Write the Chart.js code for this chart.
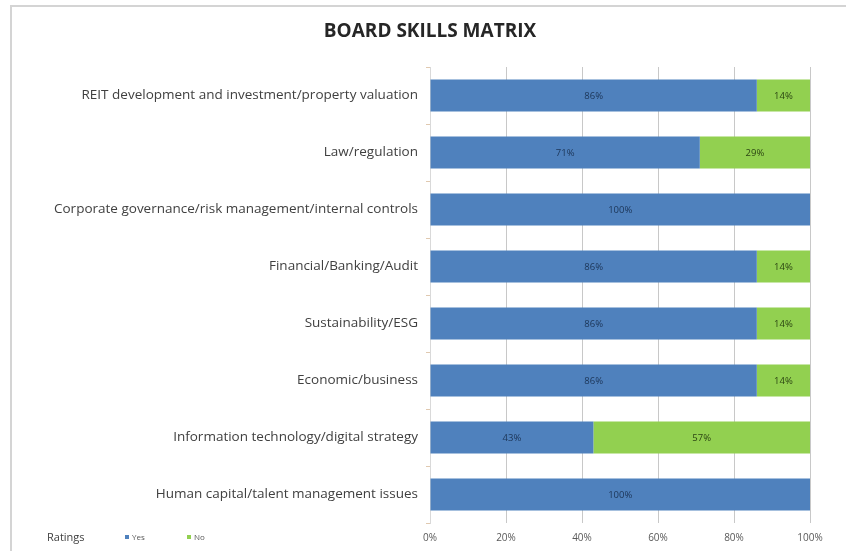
<!DOCTYPE html>
<html>
<head>
<meta charset="utf-8">
<script src="https://cdn.jsdelivr.net/npm/chart.js@4/dist/chart.umd.min.js"></script>
<style>
  body { margin: 0; background: #fff; }
  #wrap { position: relative; width: 846px; height: 551px; }
  #frame { position: absolute; left: 10px; top: 5px; right: 0; bottom: 0;
           border-top: 2px solid #d4d4d4; border-left: 2px solid #d4d4d4; }
  #skillsChart { position: absolute; left: 0; top: 0; }
</style>
</head>
<body>
<div id="wrap">
  <div id="frame"></div>
  <canvas id="skillsChart" width="846" height="551"></canvas>
</div>
<script>
// --- data ---
const chartTitle = 'BOARD SKILLS MATRIX';
const skills = [
    'REIT development and investment/property valuation',
    'Law/regulation',
    'Corporate governance/risk management/internal controls',
    'Financial/Banking/Audit',
    'Sustainability/ESG',
    'Economic/business',
    'Information technology/digital strategy',
    'Human capital/talent management issues'
];
const yesPct = [86, 71, 100, 86, 86, 86, 43, 100];
const noPct  = [14, 29, 0, 14, 14, 14, 57, 0];
const xTicks = [0, 20, 40, 60, 80, 100];

const BLUE = '#4f81bd';
const GREEN = '#92d050';

// title centred over the chart like the original (not over the canvas)
const titlePlugin = {
    id: 'titlePlugin',
    afterDraw(chart) {
        const ctx = chart.ctx;
        ctx.save();
        ctx.font = 'bold 19px "Open Sans"';
        ctx.fillStyle = '#262626';
        ctx.textAlign = 'center';
        ctx.textBaseline = 'middle';
        ctx.fillText(chartTitle, 430, 32);
        ctx.restore();
    }
};

// labels inside each bar segment
const segmentLabels = {
    id: 'segmentLabels',
    afterDatasetsDraw(chart) {
        const ctx = chart.ctx;
        const textColors = ['#1c3557', '#2b4412'];
        ctx.save();
        ctx.font = '9.5px "Open Sans"';
        ctx.textAlign = 'center';
        ctx.textBaseline = 'middle';
        chart.data.datasets.forEach((ds, di) => {
            const meta = chart.getDatasetMeta(di);
            meta.data.forEach((bar, i) => {
                const v = ds.data[i];
                if (!v) return;
                const p = bar.getProps(['x', 'base', 'y'], true);
                ctx.fillStyle = textColors[di];
                ctx.fillText(v + '%', (p.x + p.base) / 2, p.y + 1);
            });
        });
        ctx.restore();
    }
};

// bottom-left legend: "Ratings  ■ Yes  ■ No"
const ratingsLegend = {
    id: 'ratingsLegend',
    afterDraw(chart) {
        const ctx = chart.ctx;
        const y = 538;
        ctx.save();
        ctx.textBaseline = 'middle';
        ctx.font = '11px "Open Sans"';
        ctx.fillStyle = '#404040';
        ctx.fillText('Ratings', 47, y);
        const xs = [125, 187];
        ctx.font = '8px "Open Sans"';
        chart.data.datasets.forEach((ds, i) => {
            ctx.fillStyle = ds.backgroundColor;
            ctx.fillRect(xs[i], y - 3, 4, 4);
            ctx.fillStyle = '#595959';
            ctx.fillText(ds.label, xs[i] + 7, y);
        });
        ctx.restore();
    }
};

const ctx = document.getElementById('skillsChart').getContext('2d');
new Chart(ctx, {
    type: 'bar',
    data: {
        labels: skills,
        datasets: [
            { label: 'Yes', data: yesPct, backgroundColor: BLUE,
              barPercentage: 0.56, categoryPercentage: 1 },
            { label: 'No', data: noPct, backgroundColor: GREEN,
              barPercentage: 0.56, categoryPercentage: 1 }
        ]
    },
    options: {
        indexAxis: 'y',
        responsive: false,
        animation: false,
        layout: { padding: { left: 0, right: 36, top: 67, bottom: 0 } },
        plugins: {
            legend: { display: false },
            tooltip: { enabled: false },
            title: { display: false }
        },
        scales: {
            x: {
                stacked: true,
                min: 0,
                max: 100,
                afterBuildTicks(scale) {
                    scale.ticks = xTicks.map(v => ({ value: v }));
                },
                afterFit(scale) { scale.height = 28; },
                border: { display: false },
                grid: { color: '#c8c8c8', drawTicks: false },
                ticks: {
                    padding: 9,
                    color: '#595959',
                    font: { family: '"Open Sans"', size: 10 },
                    callback: v => v + '%'
                }
            },
            y: {
                stacked: true,
                afterFit(scale) { scale.width = 430; },
                border: { color: '#d9d9d9' },
                grid: { drawOnChartArea: false, tickLength: 4, color: '#e0c9b0' },
                ticks: {
                    padding: 8,
                    color: '#404040',
                    font: { family: '"Open Sans"', size: 13.5 }
                }
            }
        }
    },
    plugins: [titlePlugin, segmentLabels, ratingsLegend]
});
</script>
</body>
</html>
